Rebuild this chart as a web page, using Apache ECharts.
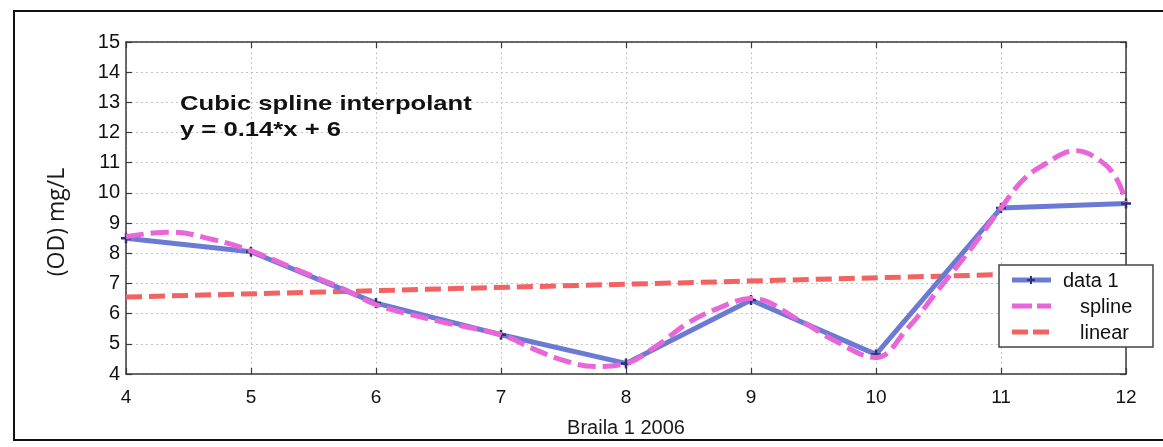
<!DOCTYPE html>
<html>
<head>
<meta charset="utf-8">
<title>Braila 1 2006 — OD</title>
<script src="https://cdn.jsdelivr.net/npm/echarts@6/dist/echarts.min.js"></script>
<style>
  html, body { margin: 0; padding: 0; background: #ffffff; }
  #chart { width: 1163px; height: 447px; }
</style>
</head>
<body>
<div id="chart"></div>
<script>
// Measured dissolved-oxygen values (mg/L) per sampling month
const months = [4, 5, 6, 7, 8, 9, 10, 11, 12];
const odValues = [8.5, 8.05, 6.35, 5.3, 4.35, 6.45, 4.65, 9.5, 9.65];

// Cubic spline curve through the measurements (x, y pairs)
const splineX = [4, 4.35, 4.7, 5, 5.4, 5.75, 6, 6.5, 7, 7.25, 7.5, 7.75, 8, 8.25, 8.5, 8.75, 9,
                 9.4, 9.67, 10, 10.25, 10.5, 10.75, 11, 11.17, 11.33, 11.6, 11.8, 11.92, 12];
const splineY = [8.55, 8.7, 8.45, 8.08, 7.4, 6.8, 6.3, 5.75, 5.3, 4.85, 4.45, 4.25, 4.35, 4.95, 5.7, 6.2, 6.5,
                 5.75, 5.1, 4.55, 5.5, 6.8, 8.1, 9.5, 10.4, 10.9, 11.4, 11.05, 10.5, 9.7];

// Linear fit, end points
const linearX = [4, 12];
const linearY = [6.55, 7.4];

// Axis ranges
const xRange = [4, 12];
const yRange = [4, 15];

const BLUE = '#6b7bd3';
const PINK = '#e866d8';
const RED = '#f26262';
const AXIS = '#3a3a3a';
const FONT = '"Liberation Sans", Arial, sans-serif';

const plusPath = 'path://M-1,-4H1V-1H4V1H1V4H-1V1H-4V-1H-1Z';

const zip = (xs, ys) => xs.map((x, i) => [x, ys[i]]);

const chart = echarts.init(document.getElementById('chart'), null, { renderer: 'canvas' });

const baseAxis = {
  type: 'value',
  interval: 1,
  axisLine: { show: true, onZero: false, lineStyle: { color: AXIS, width: 1.5 } },
  axisTick: { show: true, inside: true, length: 6, lineStyle: { color: AXIS, width: 1.2 } }
};

// small plus sign used as the legend marker
const plusPts = [[-1,-4],[1,-4],[1,-1],[4,-1],[4,1],[1,1],[1,4],[-1,4],[-1,1],[-4,1],[-4,-1],[-1,-1]];

chart.setOption({
  backgroundColor: '#ffffff',
  animation: false,
  grid: { left: 126, right: 37, top: 42, bottom: 73 },
  xAxis: [
    Object.assign({}, baseAxis, {
      min: xRange[0], max: xRange[1],
      name: 'Braila 1 2006',
      nameLocation: 'middle',
      nameGap: 44,
      nameTextStyle: { fontFamily: FONT, fontSize: 20, color: '#1a1a1a' },
      axisLabel: { fontFamily: FONT, fontSize: 19, color: '#111', margin: 14 },
      splitLine: { show: true, lineStyle: { type: [2, 3], color: '#c4c4c4', width: 1 } }
    }),
    Object.assign({}, baseAxis, {
      min: xRange[0], max: xRange[1], position: 'top',
      axisLabel: { show: false }, splitLine: { show: false }
    })
  ],
  yAxis: [
    Object.assign({}, baseAxis, {
      min: yRange[0], max: yRange[1],
      axisLabel: { fontFamily: FONT, fontSize: 20, color: '#111', margin: 6 },
      splitLine: { show: true, lineStyle: { type: [2, 3], color: '#c4c4c4', width: 1 } }
    }),
    Object.assign({}, baseAxis, {
      min: yRange[0], max: yRange[1], position: 'right',
      axisLabel: { show: false }, splitLine: { show: false }
    })
  ],
  series: [
    {
      name: 'linear',
      type: 'line',
      data: zip(linearX, linearY),
      symbol: 'none',
      lineStyle: { color: RED, width: 5, type: [16, 7] },
      z: 2
    },
    {
      name: 'data 1',
      type: 'line',
      data: zip(months, odValues),
      symbol: plusPath,
      symbolSize: 10,
      itemStyle: { color: '#2a3270' },
      lineStyle: { color: BLUE, width: 5 },
      z: 3
    },
    {
      name: 'spline',
      type: 'line',
      data: zip(splineX, splineY),
      smooth: 0.4,
      symbol: 'none',
      lineStyle: { color: PINK, width: 5, type: [18, 7] },
      z: 4
    }
  ],
  graphic: [
    // outer figure frame
    {
      type: 'rect', z: 0, silent: true,
      shape: { x: 14, y: 11, width: 1170, height: 429 },
      style: { fill: 'none', stroke: '#111', lineWidth: 2 }
    },
    // y-axis title
    {
      type: 'text', x: 57, y: 222, rotation: Math.PI / 2, z: 10,
      style: { text: '(OD) mg/L', font: '23px "Open Sans", "Liberation Sans", sans-serif', fill: '#1a1a1a',
               textAlign: 'center', textVerticalAlign: 'middle' }
    },
    // fit annotation
    {
      type: 'text', x: 180, y: 104, z: 10, scaleX: 1.22,
      style: { text: 'Cubic spline interpolant', font: 'bold 21px ' + FONT, fill: '#111', textVerticalAlign: 'middle' }
    },
    {
      type: 'text', x: 180, y: 130, z: 10, scaleX: 1.22,
      style: { text: 'y = 0.14*x + 6', font: 'bold 21px ' + FONT, fill: '#111', textVerticalAlign: 'middle' }
    },
    // legend box
    { type: 'rect', z: 20, shape: { x: 999, y: 265, width: 154, height: 82 },
      style: { fill: '#ffffff', stroke: '#444', lineWidth: 1.5 } },
    { type: 'line', z: 21, shape: { x1: 1012, y1: 280, x2: 1051, y2: 280 },
      style: { stroke: BLUE, lineWidth: 5 } },
    { type: 'polygon', z: 22, x: 1031, y: 280, shape: { points: plusPts },
      style: { fill: '#2a3270' } },
    { type: 'line', z: 21, shape: { x1: 1012, y1: 306, x2: 1051, y2: 306 },
      style: { stroke: PINK, lineWidth: 5, lineDash: [20, 5] } },
    { type: 'line', z: 21, shape: { x1: 1012, y1: 332, x2: 1051, y2: 332 },
      style: { stroke: RED, lineWidth: 5, lineDash: [16, 5] } },
    { type: 'text', z: 21, x: 1063, y: 281,
      style: { text: 'data 1', font: '20px ' + FONT, fill: '#111', textVerticalAlign: 'middle' } },
    { type: 'text', z: 21, x: 1080, y: 307,
      style: { text: 'spline', font: '20px ' + FONT, fill: '#111', textVerticalAlign: 'middle' } },
    { type: 'text', z: 21, x: 1080, y: 333,
      style: { text: 'linear', font: '20px ' + FONT, fill: '#111', textVerticalAlign: 'middle' } }
  ]
});
</script>
</body>
</html>
